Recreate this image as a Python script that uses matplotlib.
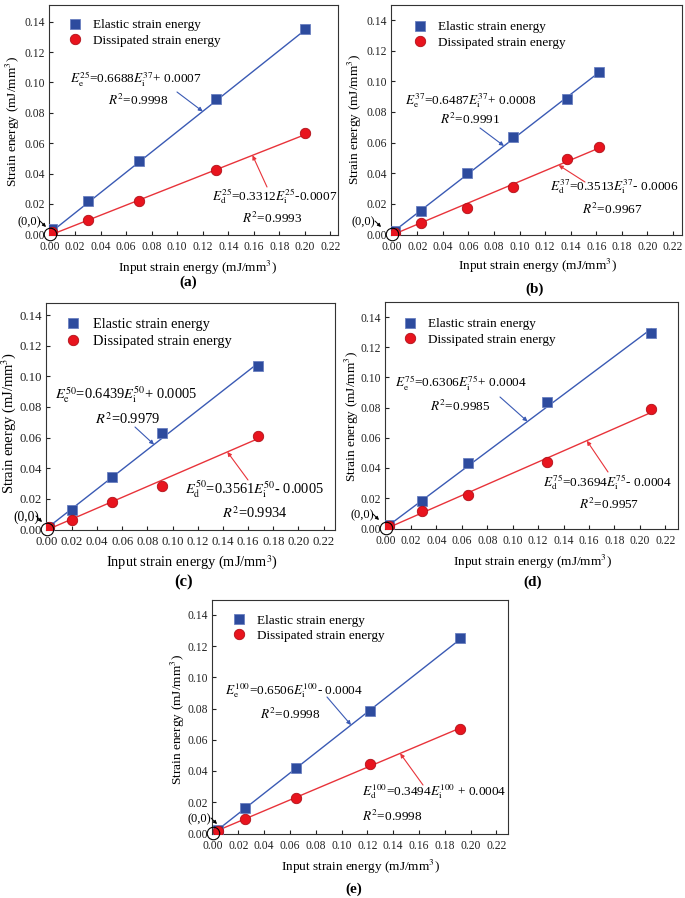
import matplotlib
matplotlib.use('Agg')
import matplotlib.pyplot as plt

plt.rcParams['font.family'] = ['Liberation Serif', 'DejaVu Serif']
plt.rcParams['mathtext.fontset'] = 'stix'

W, H = 685, 898

# Input strain energy and elastic / dissipated strain energy, one set per panel
x_a = [0.002, 0.030, 0.070, 0.130, 0.200]
el_a = [0.0035, 0.022, 0.048, 0.089, 0.135]
dis_a = [0.0013, 0.0095, 0.022, 0.042, 0.067]

x_b = [0.003, 0.023, 0.059, 0.095, 0.137, 0.162]
el_b = [0.002, 0.0154, 0.040, 0.0637, 0.0888, 0.1064]
dis_b = [0.001, 0.0072, 0.0171, 0.0312, 0.049, 0.0572]

x_c = [0.002, 0.020, 0.052, 0.0915, 0.1675]
el_c = [0.0013, 0.0126, 0.034, 0.0631, 0.1066]
dis_c = [0.0013, 0.0061, 0.0176, 0.0283, 0.0609]

x_d = [0.003, 0.0285, 0.0646, 0.1273, 0.2087]
el_d = [0.0024, 0.0178, 0.0431, 0.0838, 0.1296]
dis_d = [0.0018, 0.0114, 0.022, 0.0438, 0.079]

x_e = [0.004, 0.025, 0.065, 0.122, 0.192]
el_e = [0.002, 0.016, 0.0421, 0.0784, 0.1254]
dis_e = [0.0017, 0.009, 0.0229, 0.0442, 0.0667]

# Fitted lines (end points)
fitx_a, fitel_a, fitdis_a = [0.0, 0.201], [0.0007, 0.1351], [-0.0007, 0.0659]
fitx_b, fitel_b, fitdis_b = [0.0, 0.163], [0.0008, 0.1065], [-0.0006, 0.0567]
fitx_c, fitel_c, fitdis_c = [0.0, 0.168], [0.0005, 0.1087], [-0.0005, 0.0593]
fitx_d, fitel_d, fitdis_d = [0.0, 0.209], [0.0004, 0.1322], [-0.0004, 0.0768]
fitx_e, fitel_e, fitdis_e = [0.0, 0.192], [-0.0004, 0.1245], [0.0004, 0.0675]

# Equation labels
eq_el = [r'$E_{\mathrm{e}}^{25}$=0.6688$E_{\mathrm{i}}^{37}$+ 0.0007',
         r'$E_{\mathrm{e}}^{37}$=0.6487$E_{\mathrm{i}}^{37}$+ 0.0008',
         r'$E_{\mathrm{e}}^{50}$=0.6439$E_{\mathrm{i}}^{50}$+ 0.0005',
         r'$E_{\mathrm{e}}^{75}$=0.6306$E_{\mathrm{i}}^{75}$+ 0.0004',
         r'$E_{\mathrm{e}}^{100}$=0.6506$E_{\mathrm{i}}^{100}$- 0.0004']
eq_dis = [r'$E_{\mathrm{d}}^{25}$=0.3312$E_{\mathrm{i}}^{25}$-0.0007',
          r'$E_{\mathrm{d}}^{37}$=0.3513$E_{\mathrm{i}}^{37}$- 0.0006',
          r'$E_{\mathrm{d}}^{50}$=0.3561$E_{\mathrm{i}}^{50}$- 0.0005',
          r'$E_{\mathrm{d}}^{75}$=0.3694$E_{\mathrm{i}}^{75}$- 0.0004',
          r'$E_{\mathrm{d}}^{100}$=0.3494$E_{\mathrm{i}}^{100}$ + 0.0004']
r2_el = ['0.9998', '0.9991', '0.9979', '0.9985', '0.9998']
r2_dis = ['0.9993', '0.9967', '0.9934', '0.9957', '0.9998']
sub = ['(a)', '(b)', '(c)', '(d)', '(e)']

data = [(x_a, el_a, dis_a, fitx_a, fitel_a, fitdis_a),
        (x_b, el_b, dis_b, fitx_b, fitel_b, fitdis_b),
        (x_c, el_c, dis_c, fitx_c, fitel_c, fitdis_c),
        (x_d, el_d, dis_d, fitx_d, fitel_d, fitdis_d),
        (x_e, el_e, dis_e, fitx_e, fitel_e, fitdis_e)]

# ---------- layout (pixels, top-left origin) ----------
boxes = [(49, 5, 338, 235), (391, 5, 682, 235), (46, 303, 335, 530),
         (385, 302, 678, 529), (212, 600, 508, 834)]
xmax = [0.226, 0.227, 0.229, 0.230, 0.229]
ymax = [0.151, 0.150, 0.148, 0.150, 0.1496]
scale = [1.0, 1.0, 1.09, 1.0, 1.0]

eq_el_pos = [(70, 79), (405, 101), (55, 395), (395, 383), (225, 691)]
r2_el_pos = [(108, 100), (440, 119), (95, 419), (430, 406), (260, 714)]
eq_dis_pos = [(212, 196), (550, 187), (185, 489), (543, 482), (362, 792)]
r2_dis_pos = [(242, 218), (582, 209), (222, 513), (579, 504), (362, 816)]
arr_el = [((177, 92), (0.12, 0.0809)), ((480, 128), (0.0878, 0.0578)),
          ((135, 427), (0.0853, 0.0554)), ((500, 397), (0.1116, 0.0708)),
          ((327, 697), (0.1073, 0.0694))]
arr_dis = [((267, 187), (0.159, 0.052)), ((585, 182), (0.1306, 0.0452)),
           ((248, 480), (0.1435, 0.0506)), ((608, 472), (0.1583, 0.058)),
           ((423, 785), (0.1454, 0.0512))]
zero_pos = [(17, 222), (352, 222), (13, 517), (350, 515), (188, 819)]
xlab_pos = [(197, 268), (537, 266), (192, 563), (532, 562), (360, 867)]
ylab_pos = [(13, 122), (355, 120), (9, 423), (352, 417), (178, 720)]
sub_pos = [(188, 282), (535, 289), (184, 582), (533, 582), (354, 889)]
# legend marker centre, offset from the box's top-left corner
leg_off = [(26, 18), (29, 20), (27, 19), (25, 20), (27, 18)]

blue, blue_fc, blue_ec = '#3A5AB4', '#2D4B9E', '#6A80C0'
red, red_fc, red_ec = '#E8333A', '#E8141E', '#B01018'


def P(x, y):
    return (x, H - y)


fig = plt.figure(figsize=(W / 100, H / 100), dpi=100)

for i in range(5):
    x, el, dis, fx, fel, fdis = data[i]
    l, t, r, b = boxes[i]
    s = scale[i]
    ax = fig.add_axes([l / W, 1 - b / H, (r - l) / W, (b - t) / H])

    ax.plot(fx, fel, color=blue, lw=1.0, zorder=2)
    ax.plot(fx, fdis, color=red, lw=1.0, zorder=2)
    ax.plot(x, el, 's', ms=7, mfc=blue_fc, mec=blue_ec, mew=0.6,
            label='Elastic strain energy', zorder=3)
    ax.plot(x, dis, 'o', ms=7.5, mfc=red_fc, mec=red_ec, mew=0.6,
            label='Dissipated strain energy', zorder=3)
    # origin circle
    ax.plot([0], [0], 'o', ms=9, mfc='none', mec='black', mew=0.8,
            clip_on=False, zorder=4)

    ax.set_xlim(-0.0005, xmax[i])
    ax.set_ylim(-0.0005, ymax[i])
    ax.set_xticks([0.00, 0.02, 0.04, 0.06, 0.08, 0.10, 0.12, 0.14, 0.16,
                   0.18, 0.20, 0.22])
    ax.set_yticks([0.00, 0.02, 0.04, 0.06, 0.08, 0.10, 0.12, 0.14])
    ax.xaxis.set_major_formatter(plt.FormatStrFormatter('%.2f'))
    ax.yaxis.set_major_formatter(plt.FormatStrFormatter('%.2f'))
    ax.tick_params(direction='in', length=3, width=0.8, labelsize=8.4 * s,
                   colors='#222222', pad=3)
    ax.tick_params(axis='x', pad=4)
    for sp in ax.spines.values():
        sp.set_linewidth(0.8)
        sp.set_color('#333333')

    ox, oy = leg_off[i]
    ax.legend(loc='upper left',
              bbox_to_anchor=(0.03 + (ox - 17) / (r - l),
                              0.98 - (oy - 11) / (b - t)),
              frameon=False, fontsize=9.5 * s, handlelength=0.8,
              handletextpad=1.0, labelspacing=0.25, borderaxespad=0,
              borderpad=0.2)

    # equations and arrows
    fig.text(*[v / d for v, d in zip(P(*eq_el_pos[i]), (W, H))], eq_el[i],
             fontsize=9.5 * s, ha='left', va='center')
    fig.text(*[v / d for v, d in zip(P(*r2_el_pos[i]), (W, H))],
             r'$R^2$=' + r2_el[i], fontsize=9.5 * s, ha='left', va='center')
    fig.text(*[v / d for v, d in zip(P(*eq_dis_pos[i]), (W, H))], eq_dis[i],
             fontsize=9.5 * s, ha='left', va='center')
    fig.text(*[v / d for v, d in zip(P(*r2_dis_pos[i]), (W, H))],
             r'$R^2$=' + r2_dis[i], fontsize=9.5 * s, ha='left', va='center')

    for (start, end), col in [(arr_el[i], blue), (arr_dis[i], red)]:
        ax.annotate('', xy=end, xycoords='data', xytext=P(*start),
                    textcoords='figure pixels',
                    arrowprops=dict(arrowstyle='-|>', color=col, lw=0.8,
                                    mutation_scale=6, shrinkA=0, shrinkB=0))

    # (0,0) marker
    zx, zy = zero_pos[i]
    fig.text(zx / W, 1 - zy / H, '(0,0)', fontsize=9 * s, ha='left',
             va='center')
    ax.annotate('', xy=P(zx + 29, zy + 5), xycoords='figure pixels',
                xytext=P(zx + 23, zy - 1), textcoords='figure pixels',
                arrowprops=dict(arrowstyle='-|>', color='black', lw=0.7,
                                mutation_scale=5, shrinkA=0, shrinkB=0))

    # axis labels and panel label
    xl, yl = xlab_pos[i]
    fig.text(xl / W, 1 - yl / H, 'Input strain energy (mJ/mm$^3$)',
             fontsize=9.5 * s, ha='center', va='center')
    xl, yl = ylab_pos[i]
    fig.text(xl / W, 1 - yl / H, 'Strain energy (mJ/mm$^3$)',
             fontsize=9.6 * s, ha='center', va='center', rotation=90)
    xl, yl = sub_pos[i]
    fig.text(xl / W, 1 - yl / H, sub[i], fontsize=11 * s, ha='center',
             va='center', fontweight='bold')

fig.savefig('out.png', dpi=100)
